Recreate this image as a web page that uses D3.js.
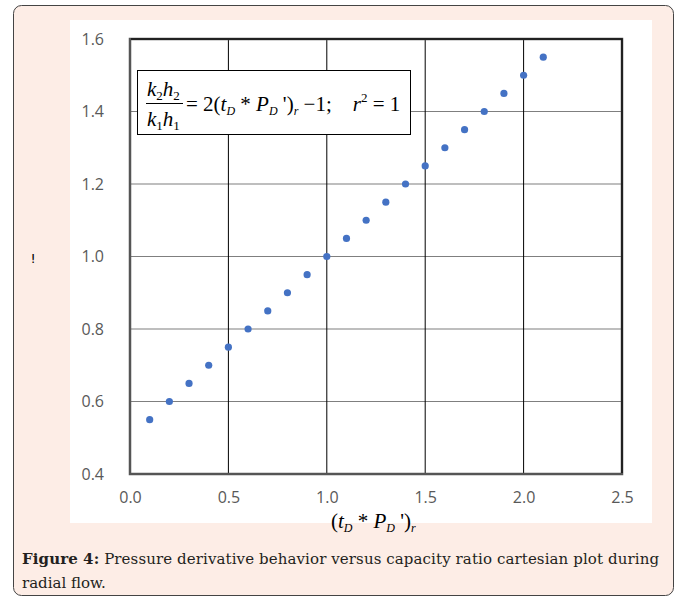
<!DOCTYPE html>
<html>
<head>
<meta charset="utf-8">
<script src="https://cdn.jsdelivr.net/npm/d3@7"></script>
<style>
  body { margin: 0; background: #ffffff; }
  text { white-space: pre; }
</style>
</head>
<body>
<div id="chart"></div>
<script>
const xValues = [0.1, 0.2, 0.3, 0.4, 0.5, 0.6, 0.7, 0.8, 0.9, 1.0, 1.1,
                 1.2, 1.3, 1.4, 1.5, 1.6, 1.7, 1.8, 1.9, 2.0, 2.1];
const yValues = [0.55, 0.6, 0.65, 0.7, 0.75, 0.8, 0.85, 0.9, 0.95, 1.0, 1.05,
                 1.1, 1.15, 1.2, 1.25, 1.3, 1.35, 1.4, 1.45, 1.5, 1.55];
const xTicks = [0, 0.5, 1.0, 1.5, 2.0, 2.5];
const yTicks = [0.4, 0.6, 0.8, 1.0, 1.2, 1.4, 1.6];
const captionBold = "Figure 4:";
const captionLine1 = " Pressure derivative behavior versus capacity ratio cartesian plot during";
const captionLine2 = "radial flow.";

const W = 677, H = 599;
const svg = d3.select("#chart").append("svg")
  .attr("width", W).attr("height", H);

// outer card
svg.append("rect")
  .attr("x", 13.5).attr("y", 5.5).attr("width", 660).attr("height", 590)
  .attr("rx", 8).attr("ry", 8)
  .style("fill", "#fdede6").style("stroke", "#444").style("stroke-width", 1);

// white chart area
svg.append("rect")
  .attr("x", 70).attr("y", 20).attr("width", 582).attr("height", 503)
  .style("fill", "#ffffff");

const plot = { left: 130, right: 622, top: 39, bottom: 474 };

const x = d3.scaleLinear().domain([0, 2.5]).range([plot.left, plot.right]);
const y = d3.scaleLinear().domain([0.4, 1.6]).range([plot.bottom, plot.top]);

const g = svg.append("g");

// horizontal grid
g.selectAll(".hgrid").data(yTicks).enter().append("line")
  .attr("x1", plot.left).attr("x2", plot.right)
  .attr("y1", d => y(d)).attr("y2", d => y(d))
  .style("stroke", "#7f7f7f").style("stroke-width", 1.2);

// vertical grid
g.selectAll(".vgrid").data(xTicks).enter().append("line")
  .attr("x1", d => x(d)).attr("x2", d => x(d))
  .attr("y1", plot.top).attr("y2", plot.bottom)
  .style("stroke", "#000").style("stroke-width", 1);

// plot border
g.append("rect")
  .attr("x", plot.left).attr("y", plot.top)
  .attr("width", plot.right - plot.left).attr("height", plot.bottom - plot.top)
  .style("fill", "none").style("stroke", "#555").style("stroke-width", 2.5);
g.append("path")
  .attr("d", `M${plot.left + 1},${plot.top} H${plot.right} V${plot.bottom - 1}`)
  .style("fill", "none").style("stroke", "#111").style("stroke-width", 1.5);

// axes (labels only)
const xAxis = svg.append("g")
  .attr("transform", `translate(0,${plot.bottom + 10})`)
  .call(d3.axisBottom(x).tickValues(xTicks).tickFormat(d3.format(".1f")).tickSize(0).tickPadding(8));
const yAxis = svg.append("g")
  .attr("transform", `translate(${plot.left - 26},0)`)
  .call(d3.axisLeft(y).tickValues(yTicks).tickFormat(d3.format(".1f")).tickSize(0).tickPadding(0));
[xAxis, yAxis].forEach(a => {
  a.select(".domain").remove();
  a.selectAll("text")
    .style("font-family", "'Open Sans', 'Liberation Sans', sans-serif")
    .style("font-size", "16px")
    .style("fill", "#595959");
});

// points
g.selectAll(".pt").data(xValues).enter().append("circle")
  .attr("cx", d => x(d))
  .attr("cy", (d, i) => y(yValues[i]))
  .attr("r", 3.6)
  .style("fill", "#4472c4");

// equation box
const eq = svg.append("g");
eq.append("rect")
  .attr("x", 137.5).attr("y", 70.5).attr("width", 273).attr("height", 64)
  .style("fill", "#fff").style("stroke", "#000").style("stroke-width", 1);

const serif = "'Liberation Serif', 'Times New Roman', serif";
const eqText = (xx, yy) => eq.append("text")
  .attr("x", xx).attr("y", yy)
  .style("font-family", serif).style("font-size", "21px").style("fill", "#000");

let t = eqText(147, 96);
t.append("tspan").style("font-style", "italic").text("k");
t.append("tspan").attr("dy", 4).style("font-size", "13px").text("2");
t.append("tspan").attr("dy", -4).style("font-style", "italic").text("h");
t.append("tspan").attr("dy", 4).style("font-size", "13px").text("2");

eq.append("line")
  .attr("x1", 146).attr("x2", 183).attr("y1", 103.5).attr("y2", 103.5)
  .style("stroke", "#000").style("stroke-width", 1);

t = eqText(147, 126);
t.append("tspan").style("font-style", "italic").text("k");
t.append("tspan").attr("dy", 4).style("font-size", "13px").text("1");
t.append("tspan").attr("dy", -4).style("font-style", "italic").text("h");
t.append("tspan").attr("dy", 4).style("font-size", "13px").text("1");

t = eqText(186, 111);
t.append("tspan").text("= 2(");
t.append("tspan").style("font-style", "italic").text("t");
t.append("tspan").attr("dy", 4).style("font-size", "12px").style("font-style", "italic").text("D");
t.append("tspan").attr("dy", -4).text(" * ");
t.append("tspan").style("font-style", "italic").text("P");
t.append("tspan").attr("dy", 4).style("font-size", "12px").style("font-style", "italic").text("D");
t.append("tspan").attr("dy", -4).text(" ')");
t.append("tspan").attr("dy", 4).style("font-size", "12px").style("font-style", "italic").text("r");
t.append("tspan").attr("dy", -4).text(" \u22121;    ");
t.append("tspan").style("font-style", "italic").text("r");
t.append("tspan").attr("dy", -9).style("font-size", "13px").text("2");
t.append("tspan").attr("dy", 9).text(" = 1");

// y axis title (garbled glyph in source)
svg.append("text")
  .attr("x", 33).attr("y", 263)
  .attr("text-anchor", "middle")
  .style("font-family", "'DejaVu Sans', sans-serif")
  .style("font-size", "13px").style("fill", "#000")
  .text("!");

// x axis title
t = svg.append("text")
  .attr("x", 331).attr("y", 528)
  .style("font-family", serif).style("font-size", "21px").style("fill", "#000");
t.append("tspan").text("(");
t.append("tspan").style("font-style", "italic").text("t");
t.append("tspan").attr("dy", 4).style("font-size", "12px").style("font-style", "italic").text("D");
t.append("tspan").attr("dy", -4).text(" * ");
t.append("tspan").style("font-style", "italic").text("P");
t.append("tspan").attr("dy", 4).style("font-size", "12px").style("font-style", "italic").text("D");
t.append("tspan").attr("dy", -4).text(" ')");
t.append("tspan").attr("dy", 4).style("font-size", "12px").style("font-style", "italic").text("r");

// caption
const capFont = "'DejaVu Serif', serif";
const cap = svg.append("text")
  .attr("x", 22).attr("y", 564)
  .attr("textLength", 637).attr("lengthAdjust", "spacing")
  .style("font-family", capFont).style("font-size", "15px").style("fill", "#231f20");
cap.append("tspan").style("font-weight", "bold").text(captionBold);
cap.append("tspan").text(captionLine1);
svg.append("text")
  .attr("x", 22).attr("y", 588)
  .style("font-family", capFont).style("font-size", "15px").style("fill", "#231f20")
  .text(captionLine2);
</script>
</body>
</html>
